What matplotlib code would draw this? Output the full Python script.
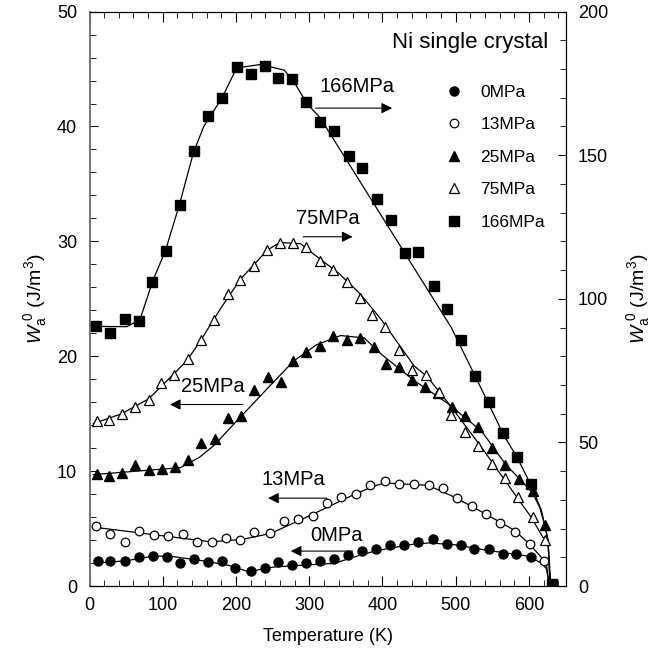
import numpy as np
import matplotlib
matplotlib.use('Agg')
import matplotlib.pyplot as plt

plt.rcParams['font.family'] = ['Liberation Sans', 'DejaVu Sans']
plt.rcParams['mathtext.fontset'] = 'custom'
plt.rcParams['mathtext.rm'] = 'Liberation Sans'
plt.rcParams['mathtext.it'] = 'Liberation Sans:italic'

# measured points, left axis (J/m^3)
t0 = [12, 28, 48, 67, 87, 106, 124, 142, 162, 181, 199, 220, 239, 257, 277, 295,
      315, 334, 353, 372, 391, 410, 430, 449, 469, 488, 507, 525, 545, 564, 583, 603]
w0 = [2.2, 2.2, 2.2, 2.49, 2.6, 2.55, 2.03, 2.32, 2.05, 2.2, 1.53, 1.33, 1.53, 2.05, 1.85, 2.03,
      2.14, 2.31, 2.69, 3.05, 3.18, 3.6, 3.56, 3.85, 4.05, 3.7, 3.6, 3.18, 3.18, 2.83, 2.75, 2.55]

t13 = [9, 28, 49, 68, 88, 107, 127, 147, 167, 186, 206, 225, 246, 266, 285, 305,
       324, 344, 364, 383, 404, 423, 443, 463, 483, 502, 522, 542, 561, 581, 601, 621]
w13 = [5.2, 4.57, 3.85, 4.77, 4.43, 4.37, 4.49, 3.85, 3.85, 4.2, 4.0, 4.71, 4.63, 5.64, 5.87, 6.08,
       7.23, 7.75, 7.99, 8.83, 9.11, 8.9, 8.9, 8.83, 8.54, 7.67, 6.94, 6.25, 5.5, 4.71, 3.7, 2.17]

t25 = [10, 27, 44, 62, 81, 99, 117, 134, 152, 171, 189, 207, 225, 244, 261, 278, 296, 315,
       333, 352, 370, 388, 405, 423, 440, 458, 476, 495, 513, 531, 550, 568, 586, 605, 622]
w25 = [9.78, 9.55, 9.84, 10.5, 10.07, 10.2, 10.36, 11.0, 12.44, 12.79, 14.6, 14.84, 17.07, 18.17,
       17.8, 19.6, 20.4, 20.9, 21.8, 21.4, 21.6, 20.8, 19.3, 19.1, 17.9, 17.3, 16.8, 15.6, 14.76,
       13.8, 12.0, 10.5, 9.3, 8.3, 5.35]

# measured points, right axis (J/m^3)
t75 = [10, 27, 45, 62, 81, 98, 116, 134, 152, 170, 189, 206, 225, 243, 260, 278, 296, 315,
       333, 351, 370, 386, 404, 423, 441, 460, 477, 494, 513, 531, 550, 568, 585, 605, 622]
w75 = [57.3, 57.9, 60, 62.3, 64.8, 70.6, 73.3, 79.1, 85.8, 92.6, 101.6, 106.7, 111.3, 117.1,
       119.6, 119.6, 118.2, 113.1, 110, 106, 100.4, 94.4, 90.3, 82.2, 75.2, 73.6, 67.7, 59.7,
       53.8, 48.9, 42.6, 37.6, 31.0, 24.1, 16.0]

t166 = [9, 28, 48, 67, 86, 104, 123, 142, 162, 181, 201, 220, 239, 258, 277, 296, 315,
        334, 354, 372, 392, 412, 431, 449, 470, 488, 507, 526, 545, 565, 584, 603, 631]
w166 = [90.6, 88, 92.8, 92.4, 106, 116.8, 132.8, 151.6, 163.6, 170, 180.8, 178.4, 181.2, 176.8,
        176.4, 168.4, 161.6, 158.4, 149.6, 145.6, 134.8, 127.6, 116, 116.4, 104.4, 96.4, 85.6,
        73.2, 64, 53.2, 44.8, 35.4, 0.7]

# fitted curves
ft0 = [10, 50, 87, 110, 160, 190, 217, 251, 300, 334, 370, 393, 443, 464, 498, 544, 599, 617, 624, 628]
fw0 = [2.0, 2.2, 2.6, 2.6, 2.15, 1.8, 1.25, 1.65, 1.85, 1.97, 2.7, 3.1, 3.65, 3.75, 3.6, 3.1, 2.6, 2.0, 1.5, 0]

ft13 = [9, 165, 208, 247, 300, 364, 385, 402, 462, 498, 540, 580, 599, 617, 624, 628]
fw13 = [5.1, 3.85, 4.05, 4.57, 6.1, 8.05, 8.6, 8.97, 8.77, 7.75, 6.3, 4.86, 3.76, 2.5, 1.8, 0]

ft25 = [5, 124, 150, 170, 200, 240, 279, 310, 343, 375, 398, 443, 489, 535, 550, 568, 586, 605, 615, 622, 626, 629]
fw25 = [9.7, 10.3, 11.2, 12.24, 14.3, 17.0, 19.6, 21.0, 21.8, 21.6, 20.2, 17.9, 15.9, 13.5, 12.2, 10.6, 9.4, 8.1, 6.8, 5.2, 4.0, 0]

ft75 = [5, 44, 81, 100, 133, 152, 180, 206, 243, 260, 288, 315, 340, 370, 398, 443, 461, 489, 535, 585, 603, 619, 626, 629]
fw75 = [56.5, 60, 65.2, 70, 78.5, 85.6, 97, 106.8, 117, 119.6, 119.2, 113.8, 109, 101.6, 92.9, 76.7, 72.9, 64, 48.4, 30.4, 24, 17, 16, 0]

ft166 = [10, 51, 69, 86, 104, 123, 142, 156, 181, 201, 234, 266, 279, 297, 315, 494, 544, 565, 584, 603, 617, 626, 630]
fw166 = [90.4, 90.3, 92.8, 106, 117, 133, 151, 160, 170, 180.4, 181.6, 179.6, 175.6, 168, 163, 90, 64, 52.8, 44.7, 35.1, 26.4, 16, 0]

fig = plt.figure(figsize=(6.63, 6.55), dpi=100)
ax = fig.add_axes([0.135, 0.1053, 0.718, 0.877])
ax2 = ax.twinx()

# fit lines
ax.plot(ft0, fw0, color='k', lw=0.9)
ax.plot(ft13, fw13, color='k', lw=0.9)
ax.plot(ft25, fw25, color='k', lw=0.9)
ax2.plot(ft75, fw75, color='k', lw=0.9)
ax2.plot(ft166, fw166, color='k', lw=0.9)

# data points
h0, = ax.plot(t0, w0, 'o', ms=6.5, mfc='k', mec='k', ls='none', label='0MPa')
h13, = ax.plot(t13, w13, 'o', ms=6.2, mfc='white', mec='k', mew=0.9, ls='none', label='13MPa')
h25, = ax.plot(t25, w25, '^', ms=7, mfc='k', mec='k', ls='none', label='25MPa')
h75, = ax2.plot(t75, w75, '^', ms=7, mfc='white', mec='k', mew=0.9, ls='none', label='75MPa')
h166, = ax2.plot(t166, w166, 's', ms=7.8, mfc='k', mec='k', ls='none', label='166MPa')

ax.set_xlim(0, 650)
ax.set_ylim(0, 50)
ax2.set_ylim(0, 200)

ax.set_xticks(np.arange(0, 601, 100))
ax.set_xticks(np.arange(0, 651, 20), minor=True)
ax.set_yticks(np.arange(0, 51, 10))
ax.set_yticks(np.arange(0, 51, 2), minor=True)
ax2.set_yticks(np.arange(0, 201, 50))
ax2.set_yticks(np.arange(0, 201, 10), minor=True)

ax.tick_params(which='both', direction='in', top=True, labelsize=13)
ax.tick_params(axis='y', which='major', length=6, pad=9)
ax.tick_params(axis='y', which='minor', length=4)
ax.tick_params(axis='x', which='major', length=7, pad=8)
ax.tick_params(axis='x', which='minor', length=4)
ax2.tick_params(which='both', direction='in', labelsize=13, pad=9)
ax2.tick_params(which='major', length=6)
ax2.tick_params(which='minor', length=4)

ax.spines['left'].set_color('0.45')
ax.spines['left'].set_linewidth(1.4)
ax2.spines['left'].set_visible(False)

ax.set_xlabel('Temperature (K)', fontsize=13, labelpad=10)
ax.set_ylabel(r'$W_{\mathrm{a}}^{\ 0}$ (J/m$^3$)', fontsize=14, labelpad=6)
ax2.set_ylabel(r'$W_{\mathrm{a}}^{\ 0}$ (J/m$^3$)', fontsize=14, labelpad=12)

ax.text(626, 47.3, 'Ni single crystal', fontsize=16, ha='right', va='center')

arrow = dict(arrowstyle='-|>', color='k', lw=0.8, mutation_scale=16)
ax.text(365, 43.5, '166MPa', fontsize=14.5, ha='center', va='center')
ax.annotate('', xy=(417, 41.6), xytext=(305, 41.6), arrowprops=arrow)
ax.text(325, 32.0, '75MPa', fontsize=14.5, ha='center', va='center')
ax.annotate('', xy=(363, 30.4), xytext=(288, 30.4), arrowprops=arrow)
ax.text(168, 17.35, '25MPa', fontsize=14.5, ha='center', va='center')
ax.annotate('', xy=(106, 15.8), xytext=(213, 15.8), arrowprops=arrow)
ax.text(279, 9.26, '13MPa', fontsize=14.5, ha='center', va='center')
ax.annotate('', xy=(240, 7.65), xytext=(328, 7.65), arrowprops=arrow)
ax.text(337, 4.4, '0MPa', fontsize=14.5, ha='center', va='center')
ax.annotate('', xy=(271, 3.04), xytext=(363, 3.04), arrowprops=arrow)

ax2.legend(handles=[h0, h13, h25, h75, h166], loc='upper left', bbox_to_anchor=(0.715, 0.9),
           frameon=False, numpoints=1, handlelength=1.0, handletextpad=1.0,
           labelspacing=1.0, fontsize=12.5)

fig.savefig('out.png', dpi=100)
